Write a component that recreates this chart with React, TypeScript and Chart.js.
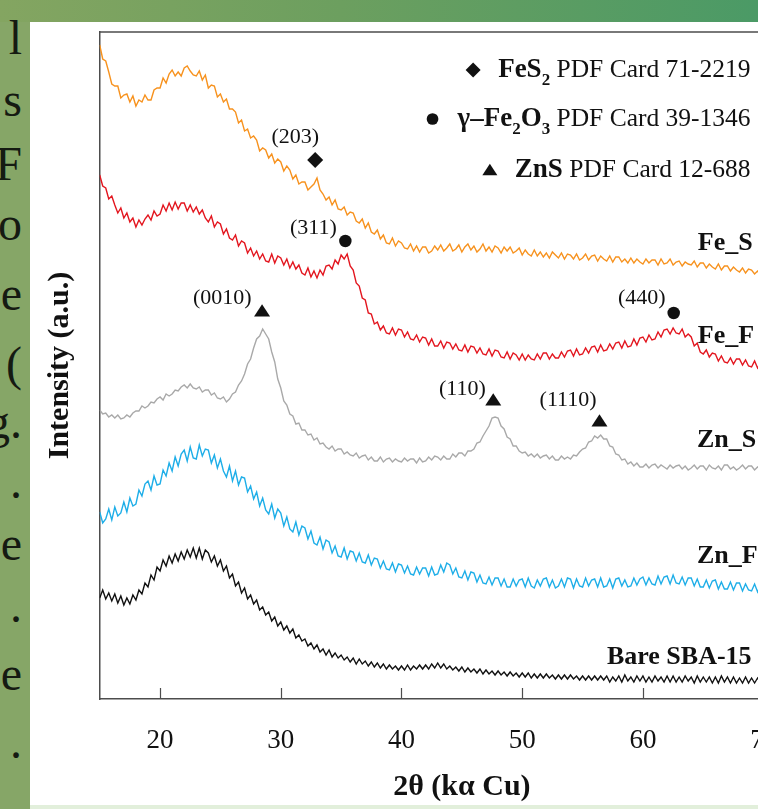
import React, { useEffect, useRef } from 'react';
import { Chart, registerables } from 'chart.js';

Chart.register(...registerables);

// 2θ grid: 15° → 70°, every 0.25°
const START_ANGLE = 15;
const STEP = 0.25;

// Intensities (a.u., offset traces), one row per degree
const FE_S = [
  654, 640, 638, 627, // 15
  615, 613, 613, 601, // 16
  604, 605, 597, 603, // 17
  593, 599, 597, 604, // 18
  599, 599, 609, 611, // 19
  611, 621, 616, 625, // 20
  629, 623, 627, 623, // 21
  631, 633, 628, 624, // 22
  623, 628, 619, 624, // 23
  611, 614, 613, 602, // 24
  605, 597, 600, 590, // 25
  590, 587, 576, 579, // 26
  568, 570, 561, 563, // 27
  559, 548, 551, 549, // 28
  541, 545, 536, 540, // 29
  537, 528, 533, 529, // 30
  520, 524, 515, 517, // 31
  517, 509, 512, 515, // 32
  521, 509, 505, 499, // 33
  502, 494, 499, 490, // 34
  489, 492, 484, 487, // 35
  486, 478, 476, 480, // 36
  471, 476, 467, 465, // 37
  469, 460, 464, 456, // 38
  455, 461, 453, 458, // 39
  456, 451, 450, 455, // 40
  448, 453, 447, 452, // 41
  452, 446, 448, 453, // 42
  449, 454, 448, 451, // 43
  455, 448, 450, 454, // 44
  447, 452, 455, 449, // 45
  453, 447, 450, 455, // 46
  448, 452, 447, 453, // 47
  451, 446, 452, 448, // 48
  452, 446, 448, 451, // 49
  444, 449, 445, 443, // 50
  449, 443, 447, 442, // 51
  446, 441, 447, 444, // 52
  441, 446, 440, 445, // 53
  444, 440, 445, 439, // 54
  441, 445, 439, 443, // 55
  444, 438, 443, 440, // 56
  438, 443, 437, 442, // 57
  442, 437, 440, 436, // 58
  441, 436, 440, 437, // 59
  435, 440, 436, 439, // 60
  439, 434, 440, 435, // 61
  436, 440, 434, 437, // 62
  438, 433, 437, 435, // 63
  434, 438, 432, 436, // 64
  436, 431, 435, 432, // 65
  430, 435, 429, 433, // 66
  433, 428, 432, 429, // 67
  427, 431, 426, 430, // 68
  429, 425, 428, 424, // 69
  426, // 70
];

const FE_F = [
  524, 513, 511, 500, // 15
  503, 494, 486, 491, // 16
  481, 486, 477, 481, // 17
  472, 479, 474, 480, // 18
  484, 479, 488, 483, // 19
  485, 494, 488, 496, // 20
  489, 497, 490, 496, // 21
  496, 488, 494, 487, // 22
  492, 485, 489, 481, // 23
  477, 483, 472, 477, // 24
  475, 465, 470, 461, // 25
  459, 464, 453, 458, // 26
  456, 446, 451, 443, // 27
  448, 440, 445, 438, // 28
  437, 445, 436, 443, // 29
  441, 434, 440, 431, // 30
  437, 430, 434, 426, // 31
  424, 431, 422, 428, // 32
  421, 429, 424, 433, // 33
  434, 430, 439, 435, // 34
  444, 440, 445, 433, // 35
  429, 416, 413, 401, // 36
  399, 386, 385, 375, // 37
  377, 369, 373, 366, // 38
  365, 371, 364, 370, // 39
  369, 362, 367, 360, // 40
  359, 364, 357, 362, // 41
  361, 354, 360, 353, // 42
  353, 358, 351, 357, // 43
  356, 350, 355, 349, // 44
  348, 354, 347, 353, // 45
  352, 346, 351, 345, // 46
  344, 350, 343, 349, // 47
  348, 342, 341, 347, // 48
  340, 346, 344, 339, // 49
  345, 339, 344, 340, // 50
  339, 345, 340, 346, // 51
  346, 340, 345, 341, // 52
  341, 347, 342, 348, // 53
  349, 343, 350, 344, // 54
  345, 351, 346, 352, // 55
  353, 347, 354, 348, // 56
  349, 355, 350, 356, // 57
  357, 351, 358, 352, // 58
  353, 360, 354, 361, // 59
  362, 357, 364, 359, // 60
  360, 367, 362, 369, // 61
  370, 365, 371, 366, // 62
  365, 370, 362, 365, // 63
  362, 353, 356, 347, // 64
  345, 349, 342, 346, // 65
  345, 338, 343, 337, // 66
  336, 341, 335, 340, // 67
  340, 334, 339, 333, // 68
  332, 338, 331, 336, // 69
  333, // 70
];

const ZN_S = [
  289, 285, 286, 282, // 15
  284, 281, 284, 280, // 16
  281, 284, 282, 286, // 17
  288, 288, 293, 291, // 18
  293, 297, 296, 300, // 19
  302, 299, 305, 303, // 20
  305, 309, 308, 312, // 21
  314, 311, 315, 311, // 22
  310, 312, 307, 309, // 23
  309, 304, 306, 301, // 24
  300, 302, 297, 300, // 25
  305, 307, 314, 318, // 26
  325, 335, 340, 351, // 27
  360, 363, 370, 365, // 28
  360, 347, 337, 320, // 29
  311, 298, 294, 285, // 30
  283, 275, 276, 269, // 31
  269, 264, 265, 259, // 32
  261, 255, 256, 252, // 33
  250, 253, 248, 250, // 34
  250, 245, 247, 244, // 35
  243, 246, 241, 243, // 36
  244, 239, 242, 238, // 37
  238, 242, 237, 240, // 38
  241, 237, 240, 238, // 39
  237, 241, 238, 240, // 40
  240, 236, 241, 237, // 41
  238, 242, 239, 243, // 42
  242, 239, 243, 240, // 43
  240, 245, 242, 246, // 44
  246, 243, 248, 248, // 45
  250, 256, 257, 263, // 46
  268, 273, 281, 282, // 47
  281, 273, 270, 262, // 48
  260, 253, 253, 248, // 49
  246, 247, 243, 245, // 50
  242, 245, 241, 243, // 51
  244, 240, 243, 239, // 52
  239, 243, 240, 242, // 53
  240, 244, 243, 247, // 54
  250, 251, 257, 258, // 55
  263, 261, 264, 260, // 56
  260, 253, 252, 245, // 57
  244, 239, 240, 235, // 58
  237, 233, 236, 232, // 59
  232, 235, 231, 234, // 60
  235, 231, 234, 232, // 61
  230, 234, 231, 233, // 62
  234, 230, 233, 229, // 63
  231, 234, 230, 233, // 64
  233, 229, 234, 231, // 65
  230, 233, 229, 234, // 66
  234, 230, 232, 229, // 67
  231, 234, 230, 233, // 68
  233, 229, 232, 230, // 69
  231, // 70
];

const ZN_F = [
  187, 176, 180, 190, // 15
  179, 192, 183, 186, // 16
  197, 187, 201, 193, // 17
  195, 209, 203, 215, // 18
  218, 209, 223, 214, // 19
  215, 229, 223, 236, // 20
  228, 242, 233, 245, // 21
  249, 238, 252, 241, // 22
  240, 254, 243, 250, // 23
  249, 236, 244, 231, // 24
  240, 228, 222, 233, // 25
  218, 228, 214, 222, // 26
  221, 207, 213, 200, // 27
  207, 193, 201, 189, // 28
  185, 195, 181, 190, // 29
  186, 173, 182, 170, // 30
  167, 177, 164, 173, // 31
  171, 160, 168, 156, // 32
  154, 162, 150, 159, // 33
  157, 146, 153, 143, // 34
  142, 151, 140, 148, // 35
  147, 138, 146, 137, // 36
  136, 144, 134, 141, // 37
  140, 131, 138, 130, // 38
  129, 136, 127, 135, // 39
  134, 126, 133, 125, // 40
  124, 132, 125, 131, // 41
  131, 123, 132, 124, // 42
  125, 134, 127, 136, // 43
  134, 125, 131, 122, // 44
  121, 128, 119, 127, // 45
  126, 117, 124, 116, // 46
  115, 122, 114, 121, // 47
  121, 113, 120, 112, // 48
  112, 120, 113, 119, // 49
  120, 112, 121, 113, // 50
  111, 119, 113, 120, // 51
  121, 112, 119, 111, // 52
  113, 120, 112, 121, // 53
  120, 111, 120, 113, // 54
  112, 121, 113, 119, // 55
  120, 112, 121, 112, // 56
  113, 120, 111, 120, // 57
  121, 113, 119, 112, // 58
  113, 121, 114, 120, // 59
  122, 114, 121, 115, // 60
  114, 123, 115, 122, // 61
  123, 115, 124, 116, // 62
  115, 122, 114, 121, // 63
  121, 113, 120, 112, // 64
  112, 119, 111, 118, // 65
  119, 110, 117, 110, // 66
  110, 117, 109, 116, // 67
  116, 108, 115, 109, // 68
  108, 115, 107, 114, // 69
  111, // 70
];

const BARE = [
  101, 109, 100, 106, // 15
  98, 105, 96, 103, // 16
  94, 101, 95, 104, // 17
  99, 109, 105, 116, // 18
  112, 124, 119, 132, // 19
  128, 139, 133, 143, // 20
  136, 145, 138, 147, // 21
  140, 149, 142, 151, // 22
  141, 151, 140, 149, // 23
  146, 137, 143, 133, // 24
  139, 128, 133, 121, // 25
  125, 113, 117, 106, // 26
  111, 100, 104, 95, // 27
  99, 89, 92, 84, // 28
  87, 78, 82, 73, // 29
  77, 69, 73, 66, // 30
  70, 61, 64, 58, // 31
  60, 53, 56, 50, // 32
  54, 47, 50, 44, // 33
  49, 42, 46, 41, // 34
  44, 39, 42, 37, // 35
  41, 35, 40, 35, // 36
  38, 33, 37, 32, // 37
  36, 31, 35, 30, // 38
  34, 30, 33, 29, // 39
  33, 29, 34, 29, // 40
  33, 30, 34, 30, // 41
  34, 30, 35, 31, // 42
  36, 31, 35, 30, // 43
  33, 29, 32, 28, // 44
  32, 27, 31, 27, // 45
  30, 26, 30, 25, // 46
  29, 25, 28, 24, // 47
  28, 24, 27, 23, // 48
  27, 23, 26, 22, // 49
  26, 22, 26, 21, // 50
  25, 21, 25, 21, // 51
  25, 21, 24, 20, // 52
  24, 20, 24, 20, // 53
  24, 20, 23, 19, // 54
  23, 19, 23, 19, // 55
  23, 19, 23, 19, // 56
  23, 17, 22, 18, // 57
  23, 17, 24, 18, // 58
  22, 17, 23, 18, // 59
  23, 17, 22, 17, // 60
  23, 18, 22, 17, // 61
  23, 17, 23, 17, // 62
  22, 17, 23, 18, // 63
  22, 16, 23, 17, // 64
  22, 17, 22, 16, // 65
  22, 16, 23, 17, // 66
  22, 16, 22, 16, // 67
  21, 16, 22, 16, // 68
  21, 16, 21, 16, // 69
  19, // 70
];

const SERIES_NAMES = ['Fe_S', 'Fe_F', 'Zn_S', 'Zn_F', 'Bare SBA-15'];
const SERIES_VALUES = [FE_S, FE_F, ZN_S, ZN_F, BARE];
const SERIES_COLORS = ['#f7921e', '#e3161f', '#a9a9a9', '#1eaee8', '#111111'];
const NAME_X = [64.55, 64.55, 64.47, 64.47, 69.0];
const NAME_Y = [456, 363, 259, 143, 42];
const NAME_ALIGN: CanvasTextAlign[] = ['left', 'left', 'left', 'left', 'right'];

const X_TICKS = [20, 30, 40, 50, 60, 70];

// Peak annotations
const PEAK_LABELS = ['(203)', '(311)', '(0010)', '(440)', '(110)', '(1110)'];
const PEAK_LABEL_X = [31.2, 32.7, 25.15, 59.9, 45.05, 53.8];
const PEAK_LABEL_Y = [562, 471, 401, 401, 310, 299];
const PEAK_MARKS = ['diamond', 'circle', 'triangle', 'circle', 'triangle', 'triangle'];
const PEAK_MARK_X = [32.85, 35.35, 28.45, 62.55, 47.6, 56.4];
const PEAK_MARK_Y = [539, 458, 388, 386, 299, 278];

// Phase key (top right)
const KEY_MARKS = ['diamond', 'circle', 'triangle'];
const KEY_RUNS = [
  [{ t: 'FeS', b: true }, { t: '2', b: true, sub: true }, { t: ' PDF Card 71-2219' }],
  [{ t: 'γ–Fe', b: true }, { t: '2', b: true, sub: true }, { t: 'O', b: true }, { t: '3', b: true, sub: true }, { t: ' PDF Card 39-1346' }],
  [{ t: 'ZnS', b: true }, { t: ' PDF Card 12-688' }],
];
const KEY_RIGHT_X = 68.92;
const KEY_Y = [629, 580, 529];

const SERIF = '"Liberation Serif", "DejaVu Serif", serif';
const AXIS_COLOR = '#4d4d4d';
const TEXT_COLOR = '#111111';

function drawMark(ctx: CanvasRenderingContext2D, kind: string, cx: number, cy: number, s: number) {
  ctx.beginPath();
  if (kind === 'diamond') {
    ctx.moveTo(cx, cy - s);
    ctx.lineTo(cx + s, cy);
    ctx.lineTo(cx, cy + s);
    ctx.lineTo(cx - s, cy);
  } else if (kind === 'circle') {
    ctx.arc(cx, cy, s * 0.78, 0, Math.PI * 2);
  } else {
    ctx.moveTo(cx, cy - s * 0.85);
    ctx.lineTo(cx + s, cy + s * 0.7);
    ctx.lineTo(cx - s, cy + s * 0.7);
  }
  ctx.closePath();
  ctx.fill();
}

const overlayPlugin = {
  id: 'overlay',
  afterDraw(chart: any) {
    const { ctx, chartArea } = chart;
    const xs = chart.scales.x;
    const ys = chart.scales.y;
    ctx.save();
    // top frame line
    ctx.strokeStyle = AXIS_COLOR;
    ctx.lineWidth = 1.5;
    ctx.beginPath();
    ctx.moveTo(chartArea.left, chartArea.top);
    ctx.lineTo(chartArea.right, chartArea.top);
    ctx.stroke();
    // inward ticks on bottom axis
    ctx.beginPath();
    X_TICKS.forEach((t) => {
      const px = Math.round(xs.getPixelForValue(t)) + 0.5;
      ctx.moveTo(px, chartArea.bottom);
      ctx.lineTo(px, chartArea.bottom - 11);
    });
    ctx.lineWidth = 1.2;
    ctx.stroke();

    ctx.fillStyle = TEXT_COLOR;
    ctx.textBaseline = 'middle';

    // series names
    ctx.font = `bold 26px ${SERIF}`;
    SERIES_NAMES.forEach((n, i) => {
      ctx.textAlign = NAME_ALIGN[i];
      ctx.fillText(n, xs.getPixelForValue(NAME_X[i]), ys.getPixelForValue(NAME_Y[i]));
    });

    // peak labels + markers
    ctx.font = `22px ${SERIF}`;
    ctx.textAlign = 'center';
    PEAK_LABELS.forEach((l, i) => {
      ctx.fillText(l, xs.getPixelForValue(PEAK_LABEL_X[i]), ys.getPixelForValue(PEAK_LABEL_Y[i]));
      drawMark(ctx, PEAK_MARKS[i], xs.getPixelForValue(PEAK_MARK_X[i]), ys.getPixelForValue(PEAK_MARK_Y[i]), 8);
    });

    // key
    ctx.textAlign = 'left';
    KEY_RUNS.forEach((runs, r) => {
      const cy = ys.getPixelForValue(KEY_Y[r]);
      const fonts = runs.map((run: any) =>
        run.sub ? `bold 17px ${SERIF}` : run.b ? `bold 27px ${SERIF}` : `25.5px ${SERIF}`
      );
      const widths = runs.map((run: any, k: number) => {
        ctx.font = fonts[k];
        return ctx.measureText(run.t).width;
      });
      const total = widths.reduce((a: number, b: number) => a + b, 0);
      let x = xs.getPixelForValue(KEY_RIGHT_X) - total;
      const startX = x;
      runs.forEach((run: any, k: number) => {
        ctx.font = fonts[k];
        ctx.fillText(run.t, x, run.sub ? cy + 11 : cy);
        x += widths[k];
      });
      drawMark(ctx, KEY_MARKS[r], startX - 25, cy, 7.5);
    });
    ctx.restore();
  },
};

const LEFT_FRAGMENTS = ['l', 's', 'F', 'o', 'e', '(', 'g.', '.', 'e', '.', 'e', '.'];
const LEFT_TOPS = [14, 76, 140, 200, 270, 340, 398, 458, 520, 582, 650, 718];

export default function App() {
  const ref = useRef<HTMLCanvasElement>(null);

  useEffect(() => {
    const angles = FE_S.map((_, i) => START_ANGLE + i * STEP);
    const chart = new Chart(ref.current as HTMLCanvasElement, {
      type: 'line',
      data: {
        datasets: SERIES_VALUES.map((vals, s) => ({
          label: SERIES_NAMES[s],
          data: vals.map((v, i) => ({ x: angles[i], y: v })),
          borderColor: SERIES_COLORS[s],
          borderWidth: 1.4,
          pointRadius: 0,
          tension: 0,
          fill: false,
        })),
      },
      options: {
        animation: false,
        responsive: false,
        devicePixelRatio: 1,
        layout: { padding: { left: 8, top: 10, right: 0, bottom: 0 } },
        plugins: { legend: { display: false }, tooltip: { enabled: false } },
        scales: {
          x: {
            type: 'linear',
            min: 15,
            max: 75,
            afterBuildTicks: (scale: any) => {
              scale.ticks = X_TICKS.map((value) => ({ value }));
            },
            afterFit: (scale: any) => {
              scale.height = 110;
            },
            ticks: {
              autoSkip: false,
              maxRotation: 0,
              padding: 26,
              color: TEXT_COLOR,
              font: { family: SERIF, size: 27 },
            },
            grid: { display: false, drawTicks: false },
            border: { display: true, color: AXIS_COLOR, width: 1.5 },
            title: {
              display: true,
              text: '2θ (kα Cu)',
              color: TEXT_COLOR,
              font: { family: SERIF, size: 30, weight: 'bold' },
            },
          },
          y: {
            min: 0,
            max: 667,
            afterFit: (scale: any) => {
              scale.width = 61.7;
            },
            ticks: { display: false },
            grid: { display: false, drawTicks: false },
            border: { display: true, color: AXIS_COLOR, width: 1.5 },
            title: {
              display: true,
              text: 'Intensity (a.u.)',
              color: TEXT_COLOR,
              font: { family: SERIF, size: 30, weight: 'bold' },
            },
          },
        },
      } as any,
      plugins: [overlayPlugin],
    });
    return () => chart.destroy();
  }, []);

  return (
    <div
      style={{
        position: 'fixed',
        left: 0,
        top: 0,
        width: 758,
        height: 809,
        overflow: 'hidden',
        background: '#86a667',
      }}
    >
      <div
        style={{
          position: 'absolute',
          left: 0,
          top: 0,
          width: 758,
          height: 22,
          background: 'linear-gradient(90deg, #84a561 0%, #6c9f5f 45%, #4b9a66 100%)',
        }}
      />
      <div style={{ position: 'absolute', left: 0, top: 0, width: 28, height: 809, overflow: 'hidden' }}>
        {LEFT_FRAGMENTS.map((f, i) => (
          <div
            key={i}
            style={{
              position: 'absolute',
              right: 6,
              top: LEFT_TOPS[i],
              fontFamily: SERIF,
              fontSize: 48,
              lineHeight: '48px',
              color: '#151a12',
              whiteSpace: 'nowrap',
            }}
          >
            {f}
          </div>
        ))}
      </div>
      <div style={{ position: 'absolute', left: 30, top: 22, width: 728, height: 783, background: '#ffffff' }} />
      <div style={{ position: 'absolute', left: 30, top: 805, width: 728, height: 4, background: '#e2efdb' }} />
      <canvas
        ref={ref}
        width={794}
        height={787}
        style={{ position: 'absolute', left: 30, top: 22, width: 794, height: 787 }}
      />
    </div>
  );
}
